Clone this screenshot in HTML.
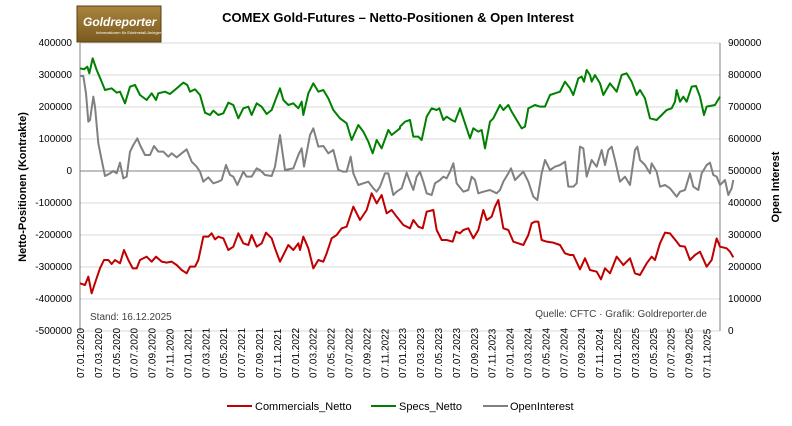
<!DOCTYPE html>
<html><head><meta charset="utf-8"><style>
body{margin:0;background:#fff;width:792px;height:421px;overflow:hidden;font-family:"Liberation Sans",sans-serif}
</style></head><body>
<svg width="792" height="421" xmlns="http://www.w3.org/2000/svg" font-family="Liberation Sans, sans-serif">
<defs><linearGradient id="lg" x1="0" y1="0" x2="0" y2="1"><stop offset="0" stop-color="#a8843e"/><stop offset="1" stop-color="#7a5a1e"/></linearGradient></defs>
<rect x="77" y="6" width="84" height="36" fill="url(#lg)" stroke="#5a3e10"/>
<text x="83" y="26" font-size="12" font-style="italic" font-weight="bold" fill="#fff">Goldreporter</text>
<text x="96" y="34" font-size="4" fill="#fff">Informationen für Edelmetall-Anleger</text>
<text x="398" y="22" font-size="13" font-weight="bold" text-anchor="middle" fill="#000">COMEX Gold-Futures – Netto-Positionen &amp; Open Interest</text>
<g stroke="#d9d9d9" stroke-width="1">
<line x1="80" y1="43" x2="720" y2="43"/><line x1="80" y1="75" x2="720" y2="75"/><line x1="80" y1="107" x2="720" y2="107"/><line x1="80" y1="139" x2="720" y2="139"/><line x1="80" y1="203" x2="720" y2="203"/><line x1="80" y1="235" x2="720" y2="235"/><line x1="80" y1="267" x2="720" y2="267"/><line x1="80" y1="299" x2="720" y2="299"/><line x1="80" y1="331" x2="720" y2="331"/>
</g>
<line x1="80" y1="171" x2="720" y2="171" stroke="#808080"/>
<line x1="80" y1="43" x2="80" y2="331" stroke="#808080"/>
<line x1="720" y1="43" x2="720" y2="331" stroke="#808080"/>
<g font-size="10" fill="#000" text-anchor="end">
<text x="72" y="46">400000</text><text x="72" y="78">300000</text><text x="72" y="110">200000</text><text x="72" y="142">100000</text><text x="72" y="174">0</text><text x="72" y="206">-100000</text><text x="72" y="238">-200000</text><text x="72" y="270">-300000</text><text x="72" y="302">-400000</text><text x="72" y="334">-500000</text>
</g>
<g font-size="10" fill="#000">
<text x="728" y="46">900000</text><text x="728" y="78">800000</text><text x="728" y="110">700000</text><text x="728" y="142">600000</text><text x="728" y="174">500000</text><text x="728" y="206">400000</text><text x="728" y="238">300000</text><text x="728" y="270">200000</text><text x="728" y="302">100000</text><text x="728" y="334">0</text>
</g>
<text transform="translate(26,187) rotate(-90)" font-size="11" font-weight="bold" text-anchor="middle">Netto-Positionen (Kontrakte)</text>
<text transform="translate(779,187) rotate(-90)" font-size="11" font-weight="bold" text-anchor="middle">Open Interest</text>
<text x="90" y="320" font-size="10" fill="#404040">Stand: 16.12.2025</text>
<text x="707" y="317" font-size="10" fill="#404040" text-anchor="end">Quelle: CFTC · Grafik: Goldreporter.de</text>
<g font-size="10" fill="#000">
<text transform="translate(84,378) rotate(-90)">07.01.2020</text><text transform="translate(101.9,378) rotate(-90)">07.03.2020</text><text transform="translate(119.8,378) rotate(-90)">07.05.2020</text><text transform="translate(137.7,378) rotate(-90)">07.07.2020</text><text transform="translate(155.6,378) rotate(-90)">07.09.2020</text><text transform="translate(173.5,378) rotate(-90)">07.11.2020</text><text transform="translate(191.4,378) rotate(-90)">07.01.2021</text><text transform="translate(209.3,378) rotate(-90)">07.03.2021</text><text transform="translate(227.2,378) rotate(-90)">07.05.2021</text><text transform="translate(245.1,378) rotate(-90)">07.07.2021</text><text transform="translate(263,378) rotate(-90)">07.09.2021</text><text transform="translate(280.9,378) rotate(-90)">07.11.2021</text><text transform="translate(298.8,378) rotate(-90)">07.01.2022</text><text transform="translate(316.7,378) rotate(-90)">07.03.2022</text><text transform="translate(334.6,378) rotate(-90)">07.05.2022</text><text transform="translate(352.5,378) rotate(-90)">07.07.2022</text><text transform="translate(370.4,378) rotate(-90)">07.09.2022</text><text transform="translate(388.3,378) rotate(-90)">07.11.2022</text><text transform="translate(406.2,378) rotate(-90)">07.01.2023</text><text transform="translate(424.1,378) rotate(-90)">07.03.2023</text><text transform="translate(442,378) rotate(-90)">07.05.2023</text><text transform="translate(459.9,378) rotate(-90)">07.07.2023</text><text transform="translate(477.8,378) rotate(-90)">07.09.2023</text><text transform="translate(495.7,378) rotate(-90)">07.11.2023</text><text transform="translate(513.6,378) rotate(-90)">07.01.2024</text><text transform="translate(531.5,378) rotate(-90)">07.03.2024</text><text transform="translate(549.4,378) rotate(-90)">07.05.2024</text><text transform="translate(567.3,378) rotate(-90)">07.07.2024</text><text transform="translate(585.2,378) rotate(-90)">07.09.2024</text><text transform="translate(603.1,378) rotate(-90)">07.11.2024</text><text transform="translate(621,378) rotate(-90)">07.01.2025</text><text transform="translate(638.9,378) rotate(-90)">07.03.2025</text><text transform="translate(656.8,378) rotate(-90)">07.05.2025</text><text transform="translate(674.7,378) rotate(-90)">07.07.2025</text><text transform="translate(692.6,378) rotate(-90)">07.09.2025</text><text transform="translate(710.5,378) rotate(-90)">07.11.2025</text>
</g>
<g transform="translate(80,40) scale(0.33333)" fill="none" stroke-width="2" stroke-linejoin="round">
<polyline vector-effect="non-scaling-stroke" stroke="#008000" points="0,85 12,88 22,80 28,100 38,55 50,90 62,118 75,150 95,145 110,158 120,155 135,190 150,140 165,135 180,165 200,180 215,160 228,180 235,160 255,155 270,162 290,145 310,128 322,135 330,155 345,148 360,165 375,218 390,225 400,212 415,225 430,220 445,188 460,195 475,235 490,205 505,200 515,225 530,190 545,200 560,222 575,210 590,170 600,145 610,180 625,195 640,190 655,205 665,185 670,225 685,160 700,130 715,155 730,150 745,175 760,210 780,235 800,250 815,300 835,255 850,275 865,305 878,340 890,300 905,325 925,270 935,285 960,265 960,260 975,245 990,240 1000,290 1015,290 1025,300 1040,230 1055,205 1070,210 1078,205 1090,240 1100,230 1115,240 1125,245 1140,205 1150,235 1170,295 1180,265 1195,275 1205,270 1215,325 1230,245 1240,235 1260,195 1270,210 1285,195 1295,215 1310,240 1325,265 1335,260 1345,205 1365,195 1380,200 1395,200 1410,165 1425,160 1440,155 1455,125 1470,145 1480,165 1495,115 1505,110 1512,125 1520,90 1530,105 1535,125 1545,105 1560,130 1570,165 1590,130 1610,155 1625,105 1640,100 1655,125 1670,165 1680,150 1695,175 1710,235 1730,240 1745,225 1760,210 1775,205 1785,185 1790,150 1800,185 1810,170 1820,185 1835,140 1848,138 1860,170 1872,225 1880,200 1905,195 1920,170"/>
<polyline vector-effect="non-scaling-stroke" stroke="#808080" points="0,108 10,108 18,160 25,245 30,240 40,170 45,200 55,310 65,360 75,408 90,400 100,393 110,400 120,368 130,415 140,410 150,335 160,315 172,295 180,315 195,345 210,345 222,318 235,335 250,335 265,350 275,340 290,352 305,340 320,328 335,365 350,380 360,395 370,425 385,412 400,430 415,425 425,420 438,375 450,405 460,410 472,435 490,395 500,410 515,410 530,385 540,390 555,405 575,408 585,380 600,285 615,390 640,385 655,345 665,325 672,380 690,285 700,265 715,320 730,318 745,340 760,330 775,390 790,395 800,395 812,350 820,400 835,435 850,430 865,425 880,445 890,455 900,440 915,400 925,400 940,465 950,455 965,445 980,398 990,425 1000,450 1010,410 1020,395 1030,425 1040,460 1055,465 1065,430 1080,420 1090,410 1100,415 1110,395 1120,370 1130,430 1150,455 1165,450 1175,410 1185,420 1195,460 1210,455 1230,450 1250,460 1260,450 1270,425 1285,400 1293,385 1305,420 1320,405 1330,395 1345,425 1360,470 1372,480 1385,400 1395,360 1410,390 1425,380 1440,375 1455,365 1465,440 1480,440 1490,430 1500,320 1510,325 1520,410 1535,360 1550,380 1565,330 1575,375 1585,330 1595,320 1605,360 1620,425 1635,410 1650,435 1665,330 1672,320 1680,360 1695,375 1710,400 1715,370 1730,395 1740,440 1755,435 1770,445 1790,470 1800,455 1815,450 1830,400 1840,440 1855,450 1865,400 1880,375 1890,368 1900,405 1910,410 1920,435 1935,420 1945,465 1955,445 1960,420"/>
<polyline vector-effect="non-scaling-stroke" stroke="#c00000" points="0,730 15,735 25,710 35,760 48,720 60,685 72,660 85,660 95,672 105,660 120,670 132,630 145,660 158,685 170,685 180,660 200,650 215,665 228,650 245,665 260,668 275,665 290,675 305,690 320,700 330,680 345,680 355,660 370,590 385,590 395,580 405,598 415,590 430,595 445,630 460,620 475,580 490,610 505,615 515,585 530,620 545,610 558,578 575,595 585,625 600,665 615,635 625,615 640,630 655,610 660,630 670,590 685,625 700,685 715,660 730,665 740,640 755,595 770,585 785,565 800,560 820,500 840,540 860,510 875,460 890,490 905,465 920,520 935,510 950,530 970,555 990,565 1000,540 1015,560 1028,565 1040,515 1060,510 1070,570 1085,600 1100,600 1118,605 1128,575 1140,580 1150,570 1165,565 1180,595 1195,570 1210,510 1220,540 1235,530 1245,500 1255,480 1270,565 1285,570 1300,605 1315,610 1330,615 1345,585 1355,550 1365,545 1375,545 1385,600 1400,605 1420,608 1440,615 1455,640 1470,645 1480,645 1500,688 1515,655 1530,690 1550,695 1563,718 1575,685 1590,700 1610,650 1630,675 1650,655 1665,700 1680,705 1700,670 1715,650 1725,660 1740,610 1755,578 1770,580 1790,605 1800,618 1815,620 1830,660 1845,645 1860,635 1880,680 1895,660 1910,595 1920,620 1940,625 1950,635 1960,652"/>
</g>
<g font-size="11" fill="#000">
<line x1="227" y1="406" x2="252" y2="406" stroke="#c00000" stroke-width="2"/><text x="255" y="410">Commercials_Netto</text>
<line x1="371" y1="406" x2="396" y2="406" stroke="#008000" stroke-width="2"/><text x="399" y="410">Specs_Netto</text>
<line x1="483" y1="406" x2="508" y2="406" stroke="#808080" stroke-width="2"/><text x="510" y="410">OpenInterest</text>
</g>
</svg>
</body></html>
